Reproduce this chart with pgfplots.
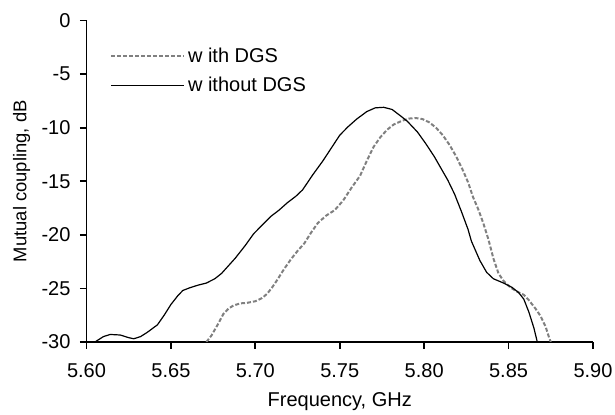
\documentclass[border=0pt]{standalone}
\usepackage{fontspec}
\setmainfont{Liberation Sans}
\usepackage{pgfplots}
\pgfplotsset{compat=1.18}
\begin{document}
\begin{tikzpicture}
\path[use as bounding box] (-64.9pt,-54.75pt) rectangle (396.4pt,256.5pt);
\begin{axis}[
  at={(0,0)}, anchor=south west,
  scale only axis,
  width=379.9pt, height=241.1pt,
  xmin=5.60, xmax=5.90, ymin=-30, ymax=0,
  axis lines=left,
  axis line style={-, line width=1.3pt},
  tick style={line width=1.3pt, black},
  tick align=outside,
  major tick length=5pt,
  xtick={5.60,5.65,5.70,5.75,5.80,5.85,5.90},
  ytick={-30,-25,-20,-15,-10,-5,0},
  xticklabel style={/pgf/number format/fixed, /pgf/number format/fixed zerofill, /pgf/number format/precision=2, yshift=-8pt},
  yticklabel style={xshift=-3.5pt},
  /pgf/number format/assume math mode=true,
  tick label style={font=\fontsize{15}{18}\selectfont},
  xlabel={Frequency, GHz},
  ylabel={Mutual coupling, dB},
  every axis x label/.style={at={(axis description cs:0.5,-0.184)}, anchor=center, font=\fontsize{15}{18}\selectfont},
  every axis y label/.style={at={(axis description cs:-0.128,0.5)}, rotate=90, anchor=center, font=\fontsize{13.8}{16}\selectfont},
  legend style={draw=none, fill=none, at={(axis description cs:0.046,0.925)}, anchor=north west, inner sep=0pt, row sep=6pt, font=\fontsize{15}{18}\selectfont, legend cell align=left},
  legend image code/.code={\draw[#1] (0pt,0pt) -- (55pt,0pt);},
]
\addplot[black!50, line width=1.5pt, dash pattern=on 3pt off 1.5pt] coordinates {
(5.671,-30.0) (5.674,-29.4) (5.678,-28.3) (5.681,-27.4) (5.684,-26.9) (5.687,-26.6)
(5.691,-26.4) (5.695,-26.35) (5.700,-26.2) (5.704,-25.9) (5.707,-25.5) (5.710,-24.9)
(5.713,-24.2) (5.717,-23.2) (5.721,-22.3) (5.725,-21.5) (5.729,-20.8) (5.733,-19.8)
(5.737,-18.9) (5.742,-18.2) (5.747,-17.7) (5.752,-16.8) (5.757,-15.6) (5.762,-14.5)
(5.766,-13.1) (5.770,-11.8) (5.774,-10.9) (5.778,-10.2) (5.782,-9.7) (5.787,-9.35)
(5.791,-9.15) (5.795,-9.1) (5.799,-9.2) (5.803,-9.5) (5.807,-10.0) (5.811,-10.7)
(5.815,-11.6) (5.819,-12.7) (5.823,-14.0) (5.826,-15.1) (5.829,-16.5) (5.832,-17.6)
(5.835,-18.9) (5.838,-20.4) (5.841,-22.2) (5.844,-23.6) (5.847,-24.3) (5.851,-24.9)
(5.855,-25.3) (5.859,-25.6) (5.862,-26.1) (5.866,-26.9) (5.869,-27.6) (5.872,-28.6)
(5.874,-29.6) (5.875,-30.0)
};
\addlegendentry{w ith DGS}
\addplot[black, line width=0.9pt] coordinates {
(5.605,-30.0) (5.610,-29.5) (5.614,-29.3) (5.620,-29.35) (5.625,-29.6) (5.628,-29.7)
(5.632,-29.5) (5.636,-29.1) (5.642,-28.4) (5.646,-27.5) (5.650,-26.5) (5.654,-25.7)
(5.657,-25.2) (5.661,-24.95) (5.666,-24.7) (5.671,-24.5) (5.676,-24.1) (5.680,-23.6)
(5.684,-22.9) (5.688,-22.2) (5.694,-21.0) (5.699,-19.9) (5.704,-19.1) (5.709,-18.3)
(5.714,-17.7) (5.719,-17.0) (5.724,-16.4) (5.728,-15.8) (5.734,-14.4) (5.740,-13.1)
(5.745,-11.9) (5.750,-10.7) (5.755,-9.9) (5.760,-9.2) (5.766,-8.5) (5.771,-8.15)
(5.776,-8.1) (5.781,-8.3) (5.786,-8.9) (5.790,-9.4) (5.796,-10.4) (5.801,-11.5)
(5.806,-12.7) (5.810,-13.8) (5.814,-14.9) (5.818,-16.2) (5.822,-17.8) (5.826,-19.5)
(5.828,-20.6) (5.833,-22.4) (5.837,-23.5) (5.841,-24.1) (5.847,-24.5) (5.852,-24.9)
(5.856,-25.4) (5.859,-26.0) (5.862,-27.2) (5.865,-28.7) (5.867,-30.0)
};
\addlegendentry{w ithout DGS}
\end{axis}
\end{tikzpicture}
\end{document}
